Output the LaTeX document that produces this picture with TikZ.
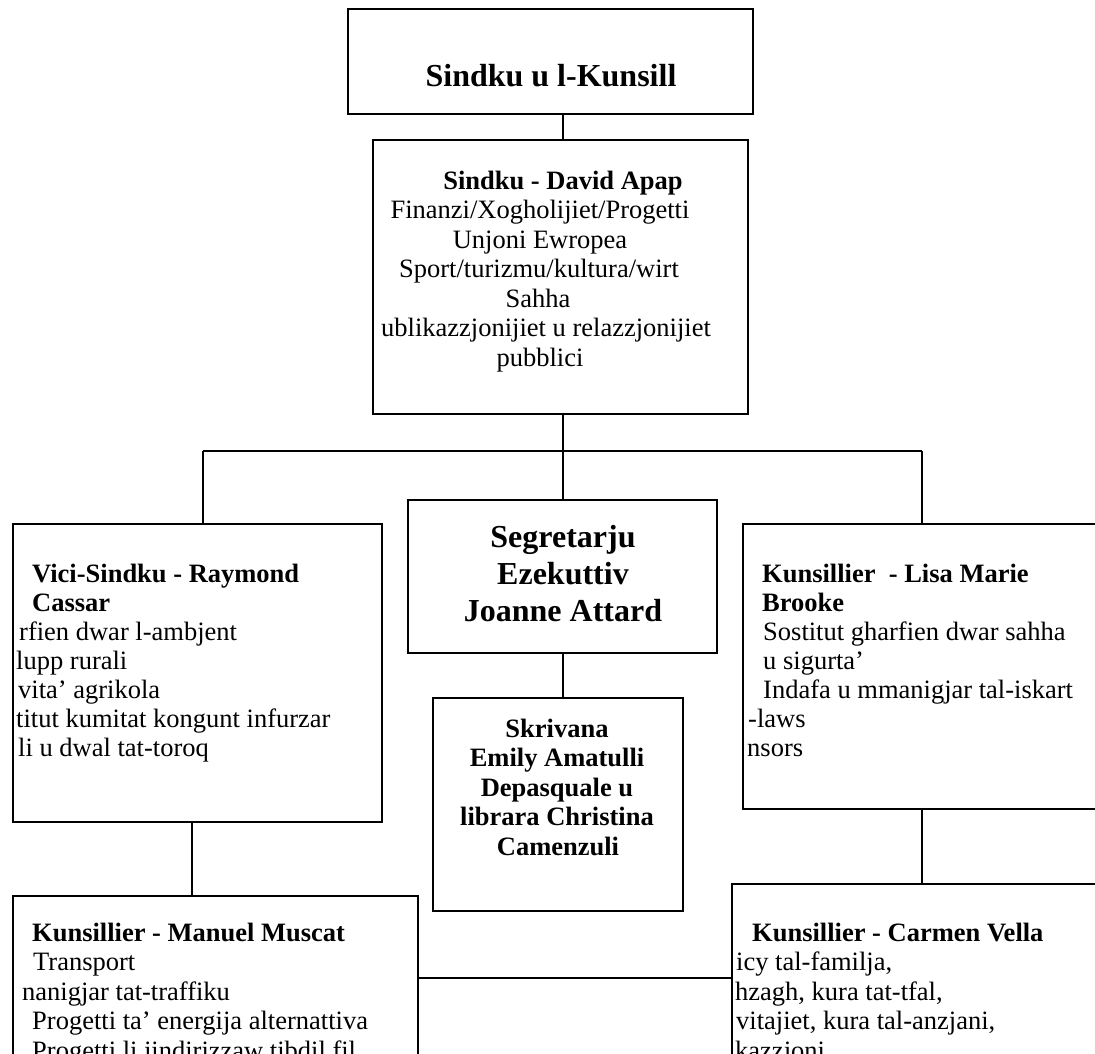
\documentclass[tikz,border=0pt]{standalone}
\usepackage{fontspec}
\setmainfont{Liberation Serif}
\begin{document}
\begin{tikzpicture}[x=1pt,y=-1pt,
  box/.style={draw, line width=2pt, anchor=north west, inner sep=0pt, outer sep=0pt},
  conn/.style={line width=2pt},
  body/.style={inner sep=0pt, font=\fontsize{26.5}{29.5}\selectfont},
  bodyb/.style={inner sep=0pt, font=\fontsize{26.5}{29.5}\selectfont\bfseries},
  big/.style={inner sep=0pt, font=\fontsize{32}{37}\selectfont\bfseries}]
\useasboundingbox (0,0) rectangle (1095,1053);
\clip (0,0) rectangle (1095,1053);
\fill[white] (0,0) rectangle (1095,1053);

% boxes
\node[box, minimum width=405pt, minimum height=105pt] (top) at (348,9) {};
\node[box, minimum width=375pt, minimum height=274pt] (sindku) at (373,140) {};
\node[box, minimum width=369pt, minimum height=298pt] (vici) at (13,524) {};
\node[box, minimum width=309pt, minimum height=153pt] (seg) at (408,500) {};
\node[box, minimum width=420pt, minimum height=285pt] (lisa) at (743,524) {};
\node[box, minimum width=250pt, minimum height=213pt] (skr) at (433,698) {};
\node[box, minimum width=405pt, minimum height=250pt] (manuel) at (13,896) {};
\node[box, minimum width=440pt, minimum height=250pt] (carmen) at (732,884) {};

% connector helpers
\coordinate (jc) at (563,451);
\coordinate (jl) at (203,451);
\coordinate (jr) at (922,451);
\coordinate (cl) at (192,0);
\coordinate (hb) at (0,978);

\draw[conn] (top.south -| jc) -- (sindku.north -| jc);
\draw[conn] (sindku.south -| jc) -- (jc);
\draw[conn] (jl) -- (jr);
\draw[conn] (jl) -- (vici.north -| jl);
\draw[conn] (jr) -- (lisa.north -| jr);
\draw[conn] (jc) -- (seg.north -| jc);
\draw[conn] (seg.south -| jc) -- (skr.north -| jc);
\draw[conn] (vici.south -| cl) -- (manuel.north -| cl);
\draw[conn] (lisa.south -| jr) -- (carmen.north -| jr);
\draw[conn] (manuel.east |- hb) -- (carmen.west |- hb);

% top
\node[big, anchor=base] (ttl) at (551,86) {Sindku u l-Kunsill};

% sindku
\node[bodyb, anchor=base] (s1) at (563,189) {Sindku - David Apap};
\node[body, anchor=base] (s2) at (540,218.5) {Finanzi/Xogholijiet/Progetti};
\node[body, anchor=base] (s3) at (540,248) {Unjoni Ewropea};
\node[body, anchor=base] (s4) at (539,277.5) {Sport/turizmu/kultura/wirt};
\node[body, anchor=base] (s5) at (538,307) {Sahha};
\node[body, anchor=base] (s6) at (546,336.5) {ublikazzjonijiet u relazzjonijiet};
\node[body, anchor=base] (s7) at (540,366) {pubblici};

% segretarju
\node[big, anchor=base] (g1) at (563,547) {Segretarju};
\node[big, anchor=base] (g2) at (563,584) {Ezekuttiv};
\node[big, anchor=base] (g3) at (563,621) {Joanne Attard};

% skrivana
\node[bodyb, anchor=base] (k1) at (557,737) {Skrivana};
\node[bodyb, anchor=base] (k2) at (557,766.5) {Emily Amatulli};
\node[bodyb, anchor=base] (k3) at (557,796) {Depasquale u};
\node[bodyb, anchor=base] (k4) at (557,825.5) {librara Christina};
\node[bodyb, anchor=base] (k5) at (558,855) {Camenzuli};

% vici
\node[bodyb, anchor=base west] (v1) at (32,582) {Vici-Sindku - Raymond};
\node[bodyb, anchor=base west] (v2) at (32,611) {Cassar};
\node[body, anchor=base west] (v3) at (19,640) {rfien dwar l-ambjent};
\node[body, anchor=base west] (v4) at (16,669) {lupp rurali};
\node[body, anchor=base west] (v5) at (18,698) {vita’ agrikola};
\node[body, anchor=base west] (v6) at (16,727) {titut kumitat kongunt infurzar};
\node[body, anchor=base west] (v7) at (18,756) {li u dwal tat-toroq};

% lisa
\node[bodyb, anchor=base west] (r1) at (762,582) {Kunsillier~ - Lisa Marie};
\node[bodyb, anchor=base west] (r2) at (762,611) {Brooke};
\node[body, anchor=base west] (r3) at (763,640) {Sostitut gharfien dwar sahha};
\node[body, anchor=base west] (r4) at (763,669) {u sigurta’};
\node[body, anchor=base west] (r5) at (763,698) {Indafa u mmanigjar tal-iskart};
\node[body, anchor=base west] (r6) at (748,727) {-laws};
\node[body, anchor=base west] (r7) at (747,756) {nsors};

% manuel
\node[bodyb, anchor=base west] (m1) at (32,941) {Kunsillier - Manuel Muscat};
\node[body, anchor=base west] (m2) at (33,970.5) {Transport};
\node[body, anchor=base west] (m3) at (22,1000) {nanigjar tat-traffiku};
\node[body, anchor=base west] (m4) at (32,1029.5) {Progetti ta’ energija alternattiva};
\node[body, anchor=base west] (m5) at (32,1059) {Progetti li jindirizzaw tibdil fil};

% carmen
\node[bodyb, anchor=base west] (c1) at (752,941) {Kunsillier - Carmen Vella};
\node[body, anchor=base west] (c2) at (736,970.5) {icy tal-familja,};
\node[body, anchor=base west] (c3) at (735,1000) {hzagh, kura tat-tfal,};
\node[body, anchor=base west] (c4) at (736,1029.5) {vitajiet, kura tal-anzjani,};
\node[body, anchor=base west] (c5) at (735,1059) {kazzjoni};
\end{tikzpicture}
\end{document}
